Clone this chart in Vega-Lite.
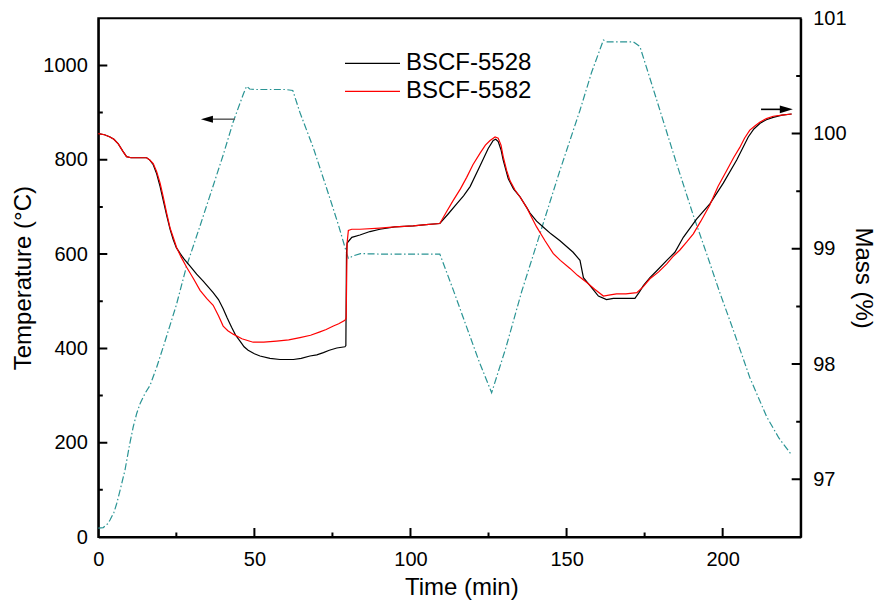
{
  "$schema": "https://vega.github.io/schema/vega-lite/v6.json",
  "width": 702.4,
  "height": 518.7,
  "autosize": {"type": "none"},
  "padding": {"left": 98.3, "top": 18.3, "right": 81.3, "bottom": 63},
  "config": {
    "font": "Liberation Sans",
    "view": {"stroke": "black", "strokeWidth": 2},
    "axis": {
      "grid": false,
      "ticks": true,
      "tickSize": 9,
      "tickOpacity": 0,
      "domainColor": "black",
      "domainWidth": 2,
      "labelFont": "Liberation Sans",
      "labelFontSize": 20,
      "labelColor": "black",
      "labelFlush": false,
      "labelBound": false,
      "labelOverlap": false,
      "titleFont": "Liberation Sans",
      "titleFontSize": 24,
      "titleFontWeight": "normal",
      "titleColor": "black"
    }
  },
  "datasets": {
    "temp": [
      {"t": 0, "T": 19}, {"t": 1.6, "T": 20}, {"t": 3.0, "T": 28}, {"t": 3.75, "T": 36},
      {"t": 5, "T": 52}, {"t": 5.9, "T": 71}, {"t": 7.2, "T": 105}, {"t": 8.55, "T": 142},
      {"t": 10, "T": 195}, {"t": 11.2, "T": 234}, {"t": 12.3, "T": 262}, {"t": 13.4, "T": 283},
      {"t": 15, "T": 305}, {"t": 16.6, "T": 322}, {"t": 18.7, "T": 360}, {"t": 20.9, "T": 405},
      {"t": 25, "T": 492}, {"t": 28.3, "T": 575}, {"t": 32.6, "T": 660}, {"t": 36.8, "T": 745},
      {"t": 40, "T": 810}, {"t": 43.2, "T": 880}, {"t": 46.5, "T": 940}, {"t": 47.5, "T": 956},
      {"t": 48.5, "T": 950}, {"t": 50.7, "T": 949}, {"t": 55, "T": 949}, {"t": 60, "T": 949},
      {"t": 62.3, "T": 947}, {"t": 64.6, "T": 900}, {"t": 68.9, "T": 825}, {"t": 74.2, "T": 718},
      {"t": 77, "T": 660}, {"t": 79.6, "T": 601}, {"t": 80.1, "T": 591}, {"t": 82, "T": 597},
      {"t": 84, "T": 601}, {"t": 90, "T": 600}, {"t": 100, "T": 600}, {"t": 109.4, "T": 600},
      {"t": 113.7, "T": 524}, {"t": 118, "T": 445}, {"t": 122, "T": 372}, {"t": 126, "T": 306},
      {"t": 130.5, "T": 400}, {"t": 135.6, "T": 520}, {"t": 140, "T": 612}, {"t": 147.9, "T": 778},
      {"t": 154.3, "T": 905}, {"t": 158, "T": 985}, {"t": 161.8, "T": 1054}, {"t": 163, "T": 1050},
      {"t": 171.4, "T": 1050}, {"t": 173.5, "T": 1040}, {"t": 176.5, "T": 977}, {"t": 179.9, "T": 905},
      {"t": 185, "T": 797}, {"t": 190.6, "T": 682}, {"t": 195, "T": 598}, {"t": 199.1, "T": 518},
      {"t": 203.4, "T": 439}, {"t": 208.7, "T": 338}, {"t": 214.1, "T": 255}, {"t": 218, "T": 210},
      {"t": 222.1, "T": 174}
    ],
    "mass": [
      {"s": "BSCF-5528", "t": 0, "m": 100.0}, {"s": "BSCF-5528", "t": 2, "m": 99.99},
      {"s": "BSCF-5528", "t": 3.75, "m": 99.97}, {"s": "BSCF-5528", "t": 5, "m": 99.95},
      {"s": "BSCF-5528", "t": 6.4, "m": 99.91}, {"s": "BSCF-5528", "t": 7.8, "m": 99.85},
      {"s": "BSCF-5528", "t": 9.05, "m": 99.8}, {"s": "BSCF-5528", "t": 10.5, "m": 99.79},
      {"s": "BSCF-5528", "t": 13, "m": 99.79}, {"s": "BSCF-5528", "t": 15.5, "m": 99.79},
      {"s": "BSCF-5528", "t": 16.5, "m": 99.77}, {"s": "BSCF-5528", "t": 17.6, "m": 99.73},
      {"s": "BSCF-5528", "t": 18.7, "m": 99.65}, {"s": "BSCF-5528", "t": 19.8, "m": 99.54},
      {"s": "BSCF-5528", "t": 20.8, "m": 99.42}, {"s": "BSCF-5528", "t": 21.9, "m": 99.29},
      {"s": "BSCF-5528", "t": 23, "m": 99.17}, {"s": "BSCF-5528", "t": 24, "m": 99.08},
      {"s": "BSCF-5528", "t": 25, "m": 99.01}, {"s": "BSCF-5528", "t": 26.2, "m": 98.96},
      {"s": "BSCF-5528", "t": 27.5, "m": 98.91}, {"s": "BSCF-5528", "t": 29.4, "m": 98.85},
      {"s": "BSCF-5528", "t": 31.5, "m": 98.78}, {"s": "BSCF-5528", "t": 33.6, "m": 98.72},
      {"s": "BSCF-5528", "t": 35.2, "m": 98.67}, {"s": "BSCF-5528", "t": 36.8, "m": 98.62},
      {"s": "BSCF-5528", "t": 38.5, "m": 98.56}, {"s": "BSCF-5528", "t": 40, "m": 98.48},
      {"s": "BSCF-5528", "t": 41.3, "m": 98.4}, {"s": "BSCF-5528", "t": 42.7, "m": 98.32},
      {"s": "BSCF-5528", "t": 44, "m": 98.25}, {"s": "BSCF-5528", "t": 45.4, "m": 98.2},
      {"s": "BSCF-5528", "t": 46.7, "m": 98.15}, {"s": "BSCF-5528", "t": 48, "m": 98.12},
      {"s": "BSCF-5528", "t": 50, "m": 98.09}, {"s": "BSCF-5528", "t": 51.8, "m": 98.07},
      {"s": "BSCF-5528", "t": 55, "m": 98.05}, {"s": "BSCF-5528", "t": 58.2, "m": 98.04},
      {"s": "BSCF-5528", "t": 62.5, "m": 98.04}, {"s": "BSCF-5528", "t": 65, "m": 98.05},
      {"s": "BSCF-5528", "t": 67.8, "m": 98.07}, {"s": "BSCF-5528", "t": 70, "m": 98.08},
      {"s": "BSCF-5528", "t": 72.1, "m": 98.1}, {"s": "BSCF-5528", "t": 74, "m": 98.12},
      {"s": "BSCF-5528", "t": 76.4, "m": 98.14}, {"s": "BSCF-5528", "t": 79.0, "m": 98.15},
      {"s": "BSCF-5528", "t": 79.3, "m": 98.16}, {"s": "BSCF-5528", "t": 79.5, "m": 98.95},
      {"s": "BSCF-5528", "t": 79.7, "m": 99.05}, {"s": "BSCF-5528", "t": 81.2, "m": 99.1},
      {"s": "BSCF-5528", "t": 83.8, "m": 99.12}, {"s": "BSCF-5528", "t": 87, "m": 99.15},
      {"s": "BSCF-5528", "t": 90.2, "m": 99.17}, {"s": "BSCF-5528", "t": 95, "m": 99.19},
      {"s": "BSCF-5528", "t": 100.9, "m": 99.2}, {"s": "BSCF-5528", "t": 105, "m": 99.21},
      {"s": "BSCF-5528", "t": 109.4, "m": 99.22}, {"s": "BSCF-5528", "t": 112, "m": 99.3},
      {"s": "BSCF-5528", "t": 114.8, "m": 99.39}, {"s": "BSCF-5528", "t": 117, "m": 99.46},
      {"s": "BSCF-5528", "t": 119.1, "m": 99.54}, {"s": "BSCF-5528", "t": 122.3, "m": 99.72},
      {"s": "BSCF-5528", "t": 124.9, "m": 99.87}, {"s": "BSCF-5528", "t": 126.5, "m": 99.94},
      {"s": "BSCF-5528", "t": 127.3, "m": 99.95}, {"s": "BSCF-5528", "t": 128.1, "m": 99.93},
      {"s": "BSCF-5528", "t": 129, "m": 99.86}, {"s": "BSCF-5528", "t": 129.7, "m": 99.77},
      {"s": "BSCF-5528", "t": 131.3, "m": 99.61}, {"s": "BSCF-5528", "t": 133, "m": 99.52},
      {"s": "BSCF-5528", "t": 135.1, "m": 99.45}, {"s": "BSCF-5528", "t": 137.2, "m": 99.36},
      {"s": "BSCF-5528", "t": 138.3, "m": 99.31}, {"s": "BSCF-5528", "t": 140.4, "m": 99.24},
      {"s": "BSCF-5528", "t": 142.5, "m": 99.19}, {"s": "BSCF-5528", "t": 145, "m": 99.13},
      {"s": "BSCF-5528", "t": 147.9, "m": 99.07}, {"s": "BSCF-5528", "t": 150, "m": 99.02},
      {"s": "BSCF-5528", "t": 152.1, "m": 98.97}, {"s": "BSCF-5528", "t": 154.3, "m": 98.9},
      {"s": "BSCF-5528", "t": 155.4, "m": 98.75}, {"s": "BSCF-5528", "t": 157.5, "m": 98.68},
      {"s": "BSCF-5528", "t": 160.2, "m": 98.59}, {"s": "BSCF-5528", "t": 162.8, "m": 98.56},
      {"s": "BSCF-5528", "t": 165, "m": 98.57}, {"s": "BSCF-5528", "t": 167.1, "m": 98.57},
      {"s": "BSCF-5528", "t": 170.3, "m": 98.57}, {"s": "BSCF-5528", "t": 171.9, "m": 98.57},
      {"s": "BSCF-5528", "t": 173.2, "m": 98.62}, {"s": "BSCF-5528", "t": 174.6, "m": 98.68},
      {"s": "BSCF-5528", "t": 176.7, "m": 98.75}, {"s": "BSCF-5528", "t": 178.9, "m": 98.81},
      {"s": "BSCF-5528", "t": 182.1, "m": 98.9}, {"s": "BSCF-5528", "t": 184.7, "m": 98.97},
      {"s": "BSCF-5528", "t": 187.4, "m": 99.1}, {"s": "BSCF-5528", "t": 191.7, "m": 99.26},
      {"s": "BSCF-5528", "t": 195.9, "m": 99.39}, {"s": "BSCF-5528", "t": 200.2, "m": 99.57},
      {"s": "BSCF-5528", "t": 204.5, "m": 99.77}, {"s": "BSCF-5528", "t": 208.2, "m": 99.97},
      {"s": "BSCF-5528", "t": 210, "m": 100.04}, {"s": "BSCF-5528", "t": 212, "m": 100.09},
      {"s": "BSCF-5528", "t": 214, "m": 100.12}, {"s": "BSCF-5528", "t": 216.2, "m": 100.14},
      {"s": "BSCF-5528", "t": 219, "m": 100.16}, {"s": "BSCF-5528", "t": 222.1, "m": 100.17},

      {"s": "BSCF-5582", "t": 0, "m": 100.0}, {"s": "BSCF-5582", "t": 2, "m": 99.99},
      {"s": "BSCF-5582", "t": 3.75, "m": 99.97}, {"s": "BSCF-5582", "t": 5, "m": 99.95},
      {"s": "BSCF-5582", "t": 6.4, "m": 99.91}, {"s": "BSCF-5582", "t": 7.8, "m": 99.85},
      {"s": "BSCF-5582", "t": 9.05, "m": 99.8}, {"s": "BSCF-5582", "t": 10.5, "m": 99.79},
      {"s": "BSCF-5582", "t": 13, "m": 99.79}, {"s": "BSCF-5582", "t": 15.5, "m": 99.79},
      {"s": "BSCF-5582", "t": 16.5, "m": 99.77}, {"s": "BSCF-5582", "t": 17.6, "m": 99.74},
      {"s": "BSCF-5582", "t": 18.7, "m": 99.67}, {"s": "BSCF-5582", "t": 19.8, "m": 99.57},
      {"s": "BSCF-5582", "t": 20.8, "m": 99.45}, {"s": "BSCF-5582", "t": 21.9, "m": 99.31},
      {"s": "BSCF-5582", "t": 23, "m": 99.18}, {"s": "BSCF-5582", "t": 24, "m": 99.1},
      {"s": "BSCF-5582", "t": 25.1, "m": 99.01}, {"s": "BSCF-5582", "t": 26.5, "m": 98.93},
      {"s": "BSCF-5582", "t": 28.3, "m": 98.84}, {"s": "BSCF-5582", "t": 30.5, "m": 98.74},
      {"s": "BSCF-5582", "t": 32.6, "m": 98.64}, {"s": "BSCF-5582", "t": 34.7, "m": 98.57},
      {"s": "BSCF-5582", "t": 36.8, "m": 98.51}, {"s": "BSCF-5582", "t": 38.5, "m": 98.42},
      {"s": "BSCF-5582", "t": 40, "m": 98.33}, {"s": "BSCF-5582", "t": 41.5, "m": 98.29},
      {"s": "BSCF-5582", "t": 43.2, "m": 98.26}, {"s": "BSCF-5582", "t": 46, "m": 98.22},
      {"s": "BSCF-5582", "t": 49.6, "m": 98.19}, {"s": "BSCF-5582", "t": 53, "m": 98.19},
      {"s": "BSCF-5582", "t": 57.1, "m": 98.2}, {"s": "BSCF-5582", "t": 61, "m": 98.21},
      {"s": "BSCF-5582", "t": 64.6, "m": 98.23}, {"s": "BSCF-5582", "t": 68, "m": 98.25},
      {"s": "BSCF-5582", "t": 71, "m": 98.28}, {"s": "BSCF-5582", "t": 73, "m": 98.3},
      {"s": "BSCF-5582", "t": 75.3, "m": 98.33}, {"s": "BSCF-5582", "t": 77, "m": 98.35},
      {"s": "BSCF-5582", "t": 79.0, "m": 98.38}, {"s": "BSCF-5582", "t": 79.4, "m": 98.4},
      {"s": "BSCF-5582", "t": 79.7, "m": 99.05}, {"s": "BSCF-5582", "t": 80.1, "m": 99.16},
      {"s": "BSCF-5582", "t": 81.2, "m": 99.17}, {"s": "BSCF-5582", "t": 83.8, "m": 99.17},
      {"s": "BSCF-5582", "t": 90.2, "m": 99.18}, {"s": "BSCF-5582", "t": 95, "m": 99.19},
      {"s": "BSCF-5582", "t": 100.9, "m": 99.2}, {"s": "BSCF-5582", "t": 105, "m": 99.21},
      {"s": "BSCF-5582", "t": 109.4, "m": 99.22}, {"s": "BSCF-5582", "t": 111.5, "m": 99.32},
      {"s": "BSCF-5582", "t": 113.7, "m": 99.42}, {"s": "BSCF-5582", "t": 116, "m": 99.52},
      {"s": "BSCF-5582", "t": 118, "m": 99.62}, {"s": "BSCF-5582", "t": 120, "m": 99.73},
      {"s": "BSCF-5582", "t": 122.3, "m": 99.83}, {"s": "BSCF-5582", "t": 124, "m": 99.9},
      {"s": "BSCF-5582", "t": 125.5, "m": 99.94}, {"s": "BSCF-5582", "t": 127.1, "m": 99.97},
      {"s": "BSCF-5582", "t": 128.1, "m": 99.96}, {"s": "BSCF-5582", "t": 129, "m": 99.9},
      {"s": "BSCF-5582", "t": 129.7, "m": 99.8}, {"s": "BSCF-5582", "t": 130.8, "m": 99.68},
      {"s": "BSCF-5582", "t": 131.9, "m": 99.59}, {"s": "BSCF-5582", "t": 133.5, "m": 99.51},
      {"s": "BSCF-5582", "t": 135.1, "m": 99.45}, {"s": "BSCF-5582", "t": 137.2, "m": 99.36},
      {"s": "BSCF-5582", "t": 138.3, "m": 99.3}, {"s": "BSCF-5582", "t": 140.4, "m": 99.19},
      {"s": "BSCF-5582", "t": 143.1, "m": 99.07}, {"s": "BSCF-5582", "t": 145.7, "m": 98.96},
      {"s": "BSCF-5582", "t": 148, "m": 98.9}, {"s": "BSCF-5582", "t": 151.1, "m": 98.83},
      {"s": "BSCF-5582", "t": 153.5, "m": 98.77}, {"s": "BSCF-5582", "t": 156.4, "m": 98.71},
      {"s": "BSCF-5582", "t": 159, "m": 98.65}, {"s": "BSCF-5582", "t": 161.8, "m": 98.59},
      {"s": "BSCF-5582", "t": 164, "m": 98.6}, {"s": "BSCF-5582", "t": 166, "m": 98.61},
      {"s": "BSCF-5582", "t": 169, "m": 98.61}, {"s": "BSCF-5582", "t": 172.5, "m": 98.62},
      {"s": "BSCF-5582", "t": 174.5, "m": 98.67}, {"s": "BSCF-5582", "t": 176.7, "m": 98.74},
      {"s": "BSCF-5582", "t": 179.5, "m": 98.8}, {"s": "BSCF-5582", "t": 182.1, "m": 98.87},
      {"s": "BSCF-5582", "t": 184, "m": 98.93}, {"s": "BSCF-5582", "t": 186.3, "m": 98.99},
      {"s": "BSCF-5582", "t": 188.5, "m": 99.06}, {"s": "BSCF-5582", "t": 190.6, "m": 99.13},
      {"s": "BSCF-5582", "t": 193, "m": 99.24}, {"s": "BSCF-5582", "t": 195.9, "m": 99.38},
      {"s": "BSCF-5582", "t": 198.5, "m": 99.54}, {"s": "BSCF-5582", "t": 201.3, "m": 99.68},
      {"s": "BSCF-5582", "t": 203.5, "m": 99.79}, {"s": "BSCF-5582", "t": 205.5, "m": 99.88},
      {"s": "BSCF-5582", "t": 207, "m": 99.96}, {"s": "BSCF-5582", "t": 208.7, "m": 100.03},
      {"s": "BSCF-5582", "t": 210.5, "m": 100.07}, {"s": "BSCF-5582", "t": 212, "m": 100.1},
      {"s": "BSCF-5582", "t": 214, "m": 100.13}, {"s": "BSCF-5582", "t": 216.2, "m": 100.15},
      {"s": "BSCF-5582", "t": 219, "m": 100.16}, {"s": "BSCF-5582", "t": 222.1, "m": 100.17}
    ],
    "arrowLeft": [{"t": 36.7, "t2": 43.8, "tip": 34.8, "T": 886}],
    "arrowRight": [{"t": 212.3, "t2": 218.4, "tip": 220.4, "m": 100.21}],
    "timeTicks": [
      {"v": 25, "T": 0, "k": "minor"}, {"v": 50, "T": 0, "k": "major"}, {"v": 75, "T": 0, "k": "minor"},
      {"v": 100, "T": 0, "k": "major"}, {"v": 125, "T": 0, "k": "minor"}, {"v": 150, "T": 0, "k": "major"},
      {"v": 175, "T": 0, "k": "minor"}, {"v": 200, "T": 0, "k": "major"}
    ],
    "tempTicks": [
      {"t": 0, "v": 100, "k": "minor"}, {"t": 0, "v": 200, "k": "major"}, {"t": 0, "v": 300, "k": "minor"},
      {"t": 0, "v": 400, "k": "major"}, {"t": 0, "v": 500, "k": "minor"}, {"t": 0, "v": 600, "k": "major"},
      {"t": 0, "v": 700, "k": "minor"}, {"t": 0, "v": 800, "k": "major"}, {"t": 0, "v": 900, "k": "minor"},
      {"t": 0, "v": 1000, "k": "major"}
    ],
    "massTicks": [
      {"t": 225, "v": 97, "k": "major"}, {"t": 225, "v": 97.5, "k": "minor"}, {"t": 225, "v": 98, "k": "major"},
      {"t": 225, "v": 98.5, "k": "minor"}, {"t": 225, "v": 99, "k": "major"}, {"t": 225, "v": 99.5, "k": "minor"},
      {"t": 225, "v": 100, "k": "major"}, {"t": 225, "v": 100.5, "k": "minor"}
    ]
  },
  "layer": [
    {
      "data": {"name": "temp"},
      "mark": {"type": "line", "stroke": "#2a9494", "strokeWidth": 1.2, "strokeDash": [7, 2.5, 1.5, 2.5]},
      "encoding": {
        "x": {
          "field": "t", "type": "quantitative",
          "scale": {"domain": [0, 225], "nice": false, "zero": false},
          "axis": {"orient": "bottom", "values": [0, 50, 100, 150, 200], "format": "d", "labelPadding": 3, "title": "Time (min)", "titlePadding": 6, "titleX": 363}
        },
        "y": {
          "field": "T", "type": "quantitative",
          "scale": {"domain": [0, 1100], "nice": false},
          "axis": {"orient": "left", "values": [0, 200, 400, 600, 800, 1000], "format": "d", "labelPadding": 2, "title": "Temperature (°C)", "titlePadding": 7}
        }
      }
    },
    {
      "data": {"name": "timeTicks"},
      "mark": {"type": "tick", "orient": "vertical", "color": "black", "thickness": 2, "opacity": 1, "clip": true},
      "encoding": {
        "x": {"field": "v", "type": "quantitative", "scale": {"domain": [0, 225], "nice": false, "zero": false}, "axis": null},
        "y": {"field": "T", "type": "quantitative", "scale": {"domain": [0, 1100], "nice": false}, "axis": null},
        "size": {"field": "k", "type": "nominal", "scale": {"domain": ["major", "minor"], "range": [18, 9]}, "legend": null}
      }
    },
    {
      "data": {"name": "tempTicks"},
      "mark": {"type": "tick", "orient": "horizontal", "color": "black", "thickness": 2, "opacity": 1, "clip": true},
      "encoding": {
        "y": {"field": "v", "type": "quantitative", "scale": {"domain": [0, 1100], "nice": false}, "axis": null},
        "x": {"field": "t", "type": "quantitative", "scale": {"domain": [0, 225], "nice": false, "zero": false}, "axis": null},
        "size": {"field": "k", "type": "nominal", "scale": {"domain": ["major", "minor"], "range": [18, 9]}, "legend": null}
      }
    },
    {
      "data": {"name": "arrowLeft"},
      "mark": {"type": "rule", "stroke": "#666666", "strokeWidth": 1.6},
      "encoding": {
        "x": {"field": "t", "type": "quantitative", "scale": {"domain": [0, 225], "nice": false, "zero": false}, "axis": null},
        "x2": {"field": "t2"},
        "y": {"field": "T", "type": "quantitative", "scale": {"domain": [0, 1100], "nice": false}, "axis": null}
      }
    },
    {
      "data": {"name": "arrowLeft"},
      "mark": {"type": "point", "shape": "M-1,0L1,-0.58L1,0.58Z", "filled": true, "color": "black", "opacity": 1, "size": 144},
      "encoding": {
        "x": {"field": "tip", "type": "quantitative", "scale": {"domain": [0, 225], "nice": false, "zero": false}, "axis": null},
        "y": {"field": "T", "type": "quantitative", "scale": {"domain": [0, 1100], "nice": false}, "axis": null}
      }
    },
    {
      "data": {"name": "mass"},
      "mark": {"type": "line", "strokeWidth": 1.2},
      "encoding": {
        "x": {"field": "t", "type": "quantitative", "scale": {"domain": [0, 225], "nice": false, "zero": false}, "axis": null},
        "y": {
          "field": "m", "type": "quantitative",
          "scale": {"domain": [96.5, 101], "nice": false, "zero": false},
          "axis": {"orient": "right", "values": [97, 98, 99, 100, 101], "format": "d", "labelPadding": 3, "title": "Mass (%)", "titlePadding": 4}
        },
        "color": {
          "field": "s", "type": "nominal",
          "scale": {"domain": ["BSCF-5528", "BSCF-5582"], "range": ["#000000", "#ff0000"]},
          "legend": {
            "orient": "none", "legendX": 245.7, "legendY": 31, "title": null,
            "symbolType": "stroke", "symbolSize": 3025, "symbolStrokeWidth": 1.3,
            "labelFont": "Liberation Sans", "labelFontSize": 24, "labelColor": "black",
            "labelOffset": 5, "clipHeight": 28, "rowPadding": 0, "padding": 0
          }
        }
      }
    },
    {
      "data": {"name": "massTicks"},
      "mark": {"type": "tick", "orient": "horizontal", "color": "black", "thickness": 2, "opacity": 1, "clip": true},
      "encoding": {
        "y": {"field": "v", "type": "quantitative", "scale": {"domain": [96.5, 101], "nice": false, "zero": false}, "axis": null},
        "x": {"field": "t", "type": "quantitative", "scale": {"domain": [0, 225], "nice": false, "zero": false}, "axis": null},
        "size": {"field": "k", "type": "nominal", "scale": {"domain": ["major", "minor"], "range": [18, 9]}, "legend": null}
      }
    },
    {
      "data": {"name": "arrowRight"},
      "mark": {"type": "rule", "stroke": "black", "strokeWidth": 1.6},
      "encoding": {
        "x": {"field": "t", "type": "quantitative", "scale": {"domain": [0, 225], "nice": false, "zero": false}, "axis": null},
        "x2": {"field": "t2"},
        "y": {"field": "m", "type": "quantitative", "scale": {"domain": [96.5, 101], "nice": false, "zero": false}, "axis": null}
      }
    },
    {
      "data": {"name": "arrowRight"},
      "mark": {"type": "point", "shape": "M1,0L-1,-0.58L-1,0.58Z", "filled": true, "color": "black", "opacity": 1, "size": 169},
      "encoding": {
        "x": {"field": "tip", "type": "quantitative", "scale": {"domain": [0, 225], "nice": false, "zero": false}, "axis": null},
        "y": {"field": "m", "type": "quantitative", "scale": {"domain": [96.5, 101], "nice": false, "zero": false}, "axis": null}
      }
    }
  ],
  "resolve": {"scale": {"x": "independent", "y": "independent", "size": "independent"}}
}
